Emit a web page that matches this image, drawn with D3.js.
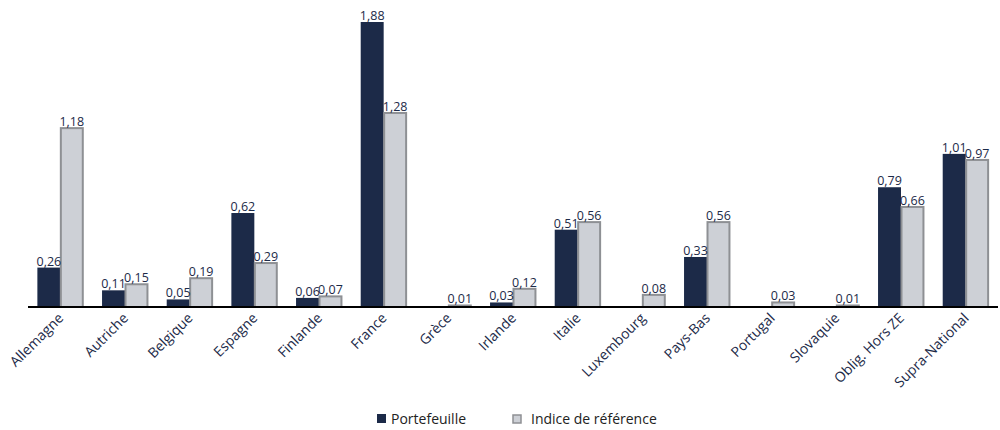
<!DOCTYPE html>
<html>
<head>
<meta charset="utf-8">
<script src="https://cdn.jsdelivr.net/npm/d3@7"></script>
<style>
  body { margin: 0; background: #fff; }
  text { font-family: "Open Sans", "Noto Sans", sans-serif; }
</style>
</head>
<body>
<div id="chart"></div>
<script>
const categories = ['Allemagne', 'Autriche', 'Belgique', 'Espagne', 'Finlande', 'France', 'Grèce',
  'Irlande', 'Italie', 'Luxembourg', 'Pays-Bas', 'Portugal', 'Slovaquie', 'Oblig. Hors ZE', 'Supra-National']
const portefeuille = [0.26, 0.11, 0.05, 0.62, 0.06, 1.88, null, 0.03, 0.51, null, 0.33, null, null, 0.79, 1.01]
const indice = [1.18, 0.15, 0.19, 0.29, 0.07, 1.28, 0.01, 0.12, 0.56, 0.08, 0.56, 0.03, 0.01, 0.66, 0.97]
const seriesNames = ['Portefeuille', 'Indice de référence']

const width = 1000, height = 430
const margin = { left: 28, right: 2, top: 22, bottom: 123 }
const navy = '#1c2a48', grey = '#cdd0d6', greyStroke = '#8e9094'

const svg = d3.select('#chart').append('svg')
  .attr('width', width).attr('height', height)

const x = d3.scaleBand().domain(categories)
  .range([margin.left, width - margin.right]).paddingInner(0.29).paddingOuter(0.145)
const xs = d3.scaleBand().domain([0, 1]).range([0, x.bandwidth()])
const y = d3.scaleLinear().domain([0, 1.88]).range([height - margin.bottom, margin.top])

const rows = categories.map((c, i) => ({ c, vals: [portefeuille[i], indice[i]] }))

const g = svg.selectAll('g.cat').data(rows).enter().append('g')
  .attr('transform', d => `translate(${x(d.c)},0)`)

g.selectAll('rect').data(d => d.vals.map((v, k) => ({ v, k })).filter(e => e.v != null))
  .enter().append('rect')
  .attr('x', e => xs(e.k) + (e.k ? 0.5 : 0))
  .attr('width', e => xs.bandwidth() - (e.k ? 1 : 0))
  .attr('y', e => y(e.v))
  .attr('height', e => y(0) - y(e.v))
  .attr('fill', e => e.k ? grey : navy)
  .attr('stroke', e => e.k ? greyStroke : 'none')
  .attr('stroke-width', 2)

g.selectAll('text.val').data(d => d.vals.map((v, k) => ({ v, k })).filter(e => e.v != null))
  .enter().append('text')
  .attr('x', e => xs(e.k) + xs.bandwidth() / 2)
  .attr('y', e => y(e.v) - 2)
  .attr('text-anchor', 'middle')
  .attr('font-size', 12.5)
  .attr('fill', navy)
  .text(e => e.v.toFixed(2).replace('.', ','))

svg.append('line')
  .attr('x1', margin.left).attr('x2', width - margin.right)
  .attr('y1', y(0)).attr('y2', y(0))
  .attr('stroke', '#000').attr('stroke-width', 2)

svg.selectAll('text.cat').data(categories).enter().append('text')
  .attr('transform', d => `translate(${x(d) + x.bandwidth() / 2 + 4},${y(0) + 12}) rotate(-45)`)
  .attr('text-anchor', 'end')
  .attr('font-size', 14)
  .attr('fill', navy)
  .text(d => d)

// legend
const leg = svg.append('g').attr('transform', 'translate(0,419)')
const legX = [377, 512]
const legTextX = [391, 531]
seriesNames.forEach((n, k) => {
  leg.append('rect')
    .attr('x', legX[k] + (k ? 1 : 0)).attr('y', -5 + (k ? 1 : 0))
    .attr('width', k ? 8 : 9).attr('height', k ? 8 : 9)
    .attr('fill', k ? grey : navy)
    .attr('stroke', k ? greyStroke : 'none').attr('stroke-width', 1.5)
  leg.append('text')
    .attr('x', legTextX[k]).attr('y', 5)
    .attr('font-size', 14)
    .attr('fill', '#222')
    .text(n)
})
</script>
</body>
</html>
